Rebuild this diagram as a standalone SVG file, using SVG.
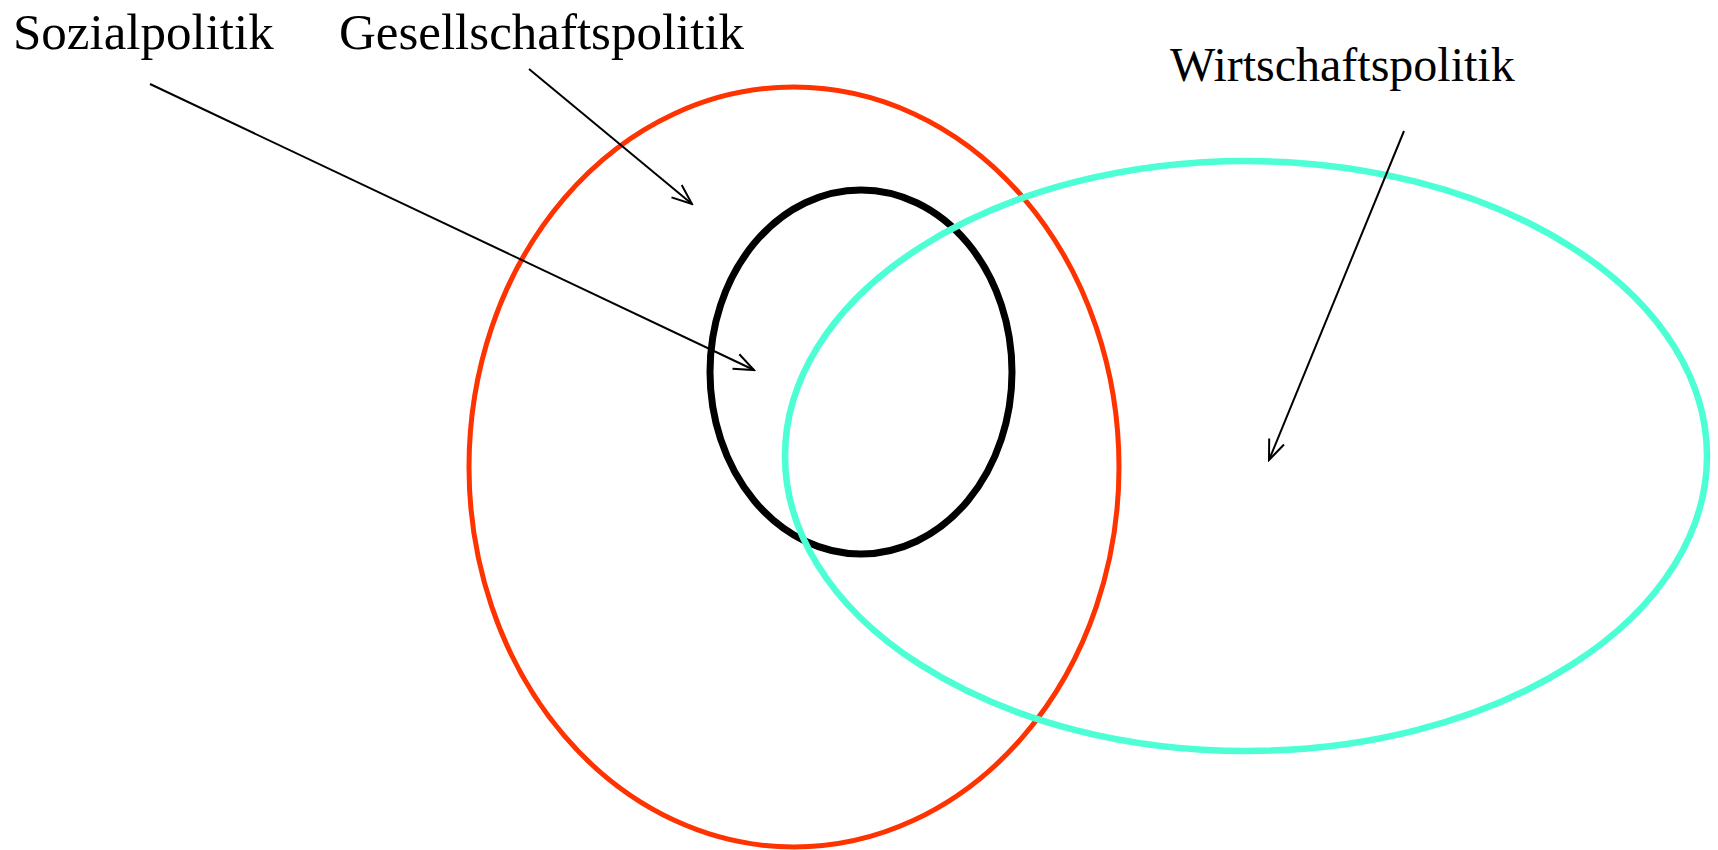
<svg xmlns="http://www.w3.org/2000/svg" width="1718" height="850" viewBox="0 0 1718 850">
<style>
.lbl{font-family:"Liberation Serif","Times New Roman",serif;font-size:48px;fill:#000}
.big{font-size:51px}
.conn{stroke:#000;stroke-width:2;fill:none;marker-end:url(#arr)}
</style>
<defs>
<marker id="arr" markerWidth="24" markerHeight="20" refX="22" refY="10" orient="auto" markerUnits="userSpaceOnUse">
<path d="M2,2 L22,10 L2,18" fill="none" stroke="#000" stroke-width="2"/>
</marker>
</defs>
<rect width="1718" height="850" fill="#fff"/>
<g id="sozial"><ellipse cx="794" cy="467" rx="325" ry="380" fill="none" stroke="#FF3300" stroke-width="5"/></g>
<g id="gesellschaft"><ellipse cx="861" cy="372" rx="151" ry="182" fill="none" stroke="#000" stroke-width="7"/></g>
<g id="wirtschaft"><ellipse cx="1246" cy="456" rx="461" ry="295" fill="none" stroke="#4CFFD4" stroke-width="6.5"/></g>
<g id="labels">
<text class="lbl big" x="13" y="49">Sozialpolitik</text>
<text class="lbl big" x="339" y="49">Gesellschaftspolitik</text>
<text class="lbl" x="1170" y="81">Wirtschaftspolitik</text>
</g>
<g id="connectors">
<line class="conn" x1="150" y1="84" x2="754" y2="370"/>
<line class="conn" x1="529" y1="69" x2="692" y2="204"/>
<line class="conn" x1="1404" y1="131" x2="1269" y2="460"/>
</g>
</svg>
